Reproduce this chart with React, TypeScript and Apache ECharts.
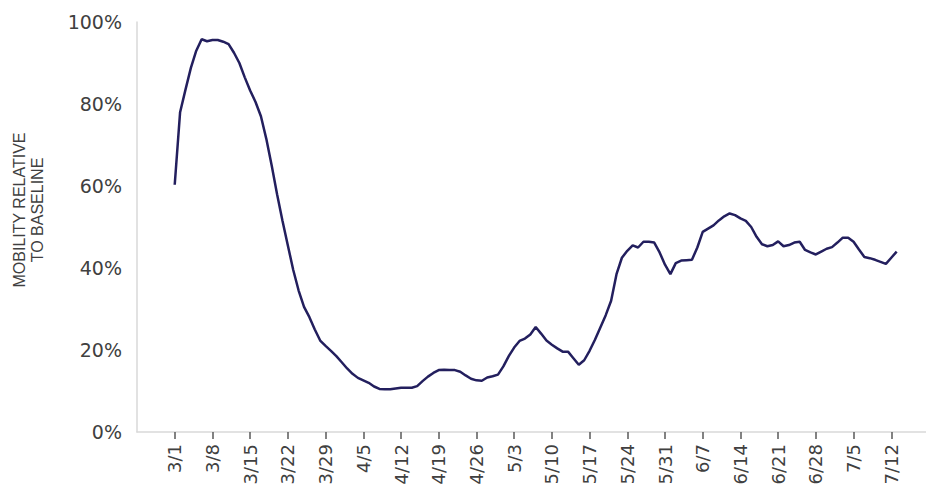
import React, { useEffect, useRef } from "react";
import * as echarts from "echarts";

// Daily mobility relative to baseline (%), starting 3/1, one value per day
const mobility: number[] = [
  60.3, 78, 83.5, 88.8, 93, 95.8, 95.3, 95.6, 95.6, 95.2,
  94.6, 92.5, 90, 86.5, 83.3, 80.5, 77, 71.5, 65, 58,
  51.5, 45.5, 39.5, 34.5, 30.5, 28, 25, 22.3, 21, 19.8,
  18.5, 17, 15.5, 14.2, 13.2, 12.6, 12, 11.1, 10.5, 10.4,
  10.4, 10.6, 10.8, 10.8, 10.8, 11.2, 12.4, 13.5, 14.4, 15.1,
  15.2, 15.1, 15.1, 14.7, 13.8, 13, 12.6, 12.5, 13.3, 13.6,
  14, 16, 18.5, 20.6, 22.2, 22.8, 23.8, 25.6, 24, 22.3,
  21.3, 20.4, 19.6, 19.6, 18, 16.4, 17.5, 19.8, 22.5, 25.5,
  28.5, 32, 38.5, 42.5, 44.2, 45.5, 45, 46.4, 46.4, 46.2,
  43.8, 40.8, 38.5, 41.2, 41.8, 41.9, 42, 45, 48.8, 49.6,
  50.4, 51.6, 52.6, 53.3, 52.9, 52.1, 51.5, 50, 47.6, 45.8,
  45.3, 45.6, 46.5, 45.3, 45.6, 46.2, 46.4, 44.4, 43.8, 43.3,
  44, 44.7, 45.1, 46.2, 47.4, 47.4, 46.4, 44.5, 42.7, 42.4,
  42, 41.5, 41, 42.5, 44,
];

// Weekly tick labels (blank entries pad the axis ends)
const weekLabels: string[] = [
  "", "3/1", "3/8", "3/15", "3/22", "3/29", "4/5", "4/12", "4/19", "4/26",
  "5/3", "5/10", "5/17", "5/24", "5/31", "6/7", "6/14", "6/21", "6/28",
  "7/5", "7/12", "",
];

const yTicks: number[] = [0, 20, 40, 60, 80, 100];

const yAxisTitle = "MOBILITY RELATIVE\nTO BASELINE";

export default function App() {
  const ref = useRef<HTMLDivElement>(null);

  useEffect(() => {
    if (!ref.current) return;
    const chart = echarts.init(ref.current, null, { renderer: "svg" });
    const lastIdx = weekLabels.length - 1;
    const tickFn = (i: number) => i > 0 && i < lastIdx;
    chart.setOption({
      animation: false,
      backgroundColor: "#ffffff",
      grid: {
        left: 137,
        top: 22,
        bottom: 64,
        right: -3,
        containLabel: false,
        outerBoundsMode: "none",
      },
      graphic: [
        {
          type: "text",
          x: 28,
          y: 210,
          rotation: Math.PI / 2,
          style: {
            text: yAxisTitle,
            fill: "#404040",
            font: '16px "Liberation Sans"',
            lineHeight: 18,
            align: "center",
            verticalAlign: "middle",
          },
        },
      ],
      xAxis: [
        {
          type: "value",
          min: -7,
          max: 140,
          interval: 7,
          axisLine: { show: true, onZero: false, lineStyle: { color: "#d9d9d9", width: 1.5 } },
          axisTick: { show: false },
          axisLabel: { show: false },
          splitLine: { show: false },
        },
        {
          type: "category",
          boundaryGap: false,
          data: weekLabels,
          position: "bottom",
          offset: 3,
          axisLine: { show: false },
          axisTick: {
            show: true,
            interval: tickFn,
            length: 7,
            lineStyle: { color: "#595959", width: 1.5 },
          },
          axisLabel: {
            interval: tickFn,
            rotate: 90,
            margin: 9,
            color: "#404040",
            fontFamily: "DejaVu Sans",
            fontSize: 18,
          },
          splitLine: { show: false },
        },
      ],
      yAxis: {
        type: "value",
        min: yTicks[0],
        max: yTicks[yTicks.length - 1],
        interval: 20,
        axisLine: { show: true, onZero: false, lineStyle: { color: "#d9d9d9", width: 1.5 } },
        axisTick: { show: false },
        splitLine: { show: false },
        axisLabel: {
          formatter: "{value}%",
          margin: 15,
          color: "#404040",
          fontFamily: "DejaVu Sans",
          fontSize: 19,
        },
      },
      series: [
        {
          type: "line",
          xAxisIndex: 0,
          data: mobility.map((v, i) => [i, v]),
          showSymbol: false,
          smooth: false,
          lineStyle: { color: "#231f5e", width: 2.5 },
        },
      ],
    });
    return () => chart.dispose();
  }, []);

  return (
    <div
      ref={ref}
      style={{ position: "fixed", left: 0, top: 0, width: 926, height: 496 }}
    />
  );
}
